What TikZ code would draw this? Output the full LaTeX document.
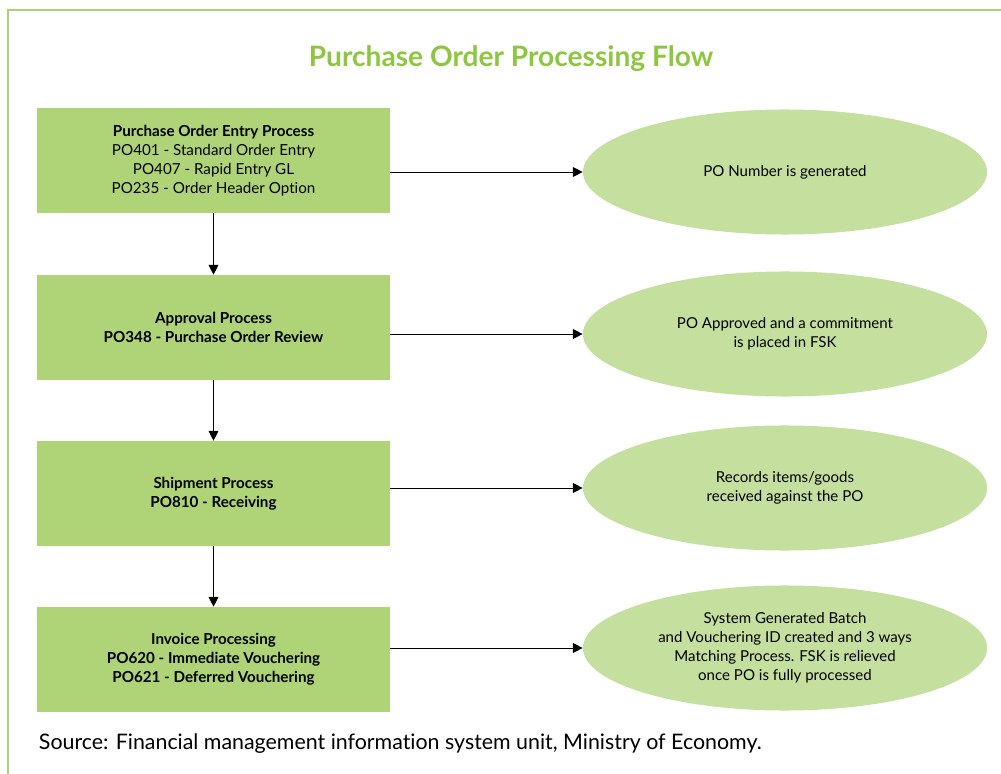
\documentclass[tikz,border=0pt]{standalone}
\usepackage{fontspec}
\setmainfont{Lato}[Ligatures=NoCommon]
\usepackage{xcolor}
\usetikzlibrary{shapes.geometric}
\usetikzlibrary{arrows.meta}
\definecolor{boxgreen}{HTML}{AED477}
\definecolor{ovalgreen}{HTML}{C5DF9F}
\definecolor{titlegreen}{HTML}{8DC63F}
\definecolor{framegreen}{HTML}{A9D17A}
\tikzset{
    process/.style={fill=boxgreen, minimum width=8.825cm, minimum height=2.625cm,
        align=center, font=\fontsize{10.8}{13.5}\selectfont, inner sep=0pt},
    outcome/.style={ellipse, fill=ovalgreen, minimum width=10.1cm, minimum height=3.125cm,
        align=center, font=\fontsize{10.7}{13.5}\selectfont, inner sep=0pt},
    flow/.style={-{Triangle[length=7pt,width=7pt]}, line width=0.7pt}
}

\begin{document}
\begin{tikzpicture}[x=0.025cm, y=-0.025cm]
		\useasboundingbox (0,0) rectangle (1001,774);
		% frame
		\draw[framegreen, line width=1.4pt] (8,774) -- (8,10) -- (1001,10);
		\node[font=\fontsize{20}{24}\selectfont\bfseries, text=titlegreen] (title) at (511,59) {Purchase Order Processing Flow};

		% processes
		\node[process] (entry) at (213.5,160.5) {\textbf{Purchase Order Entry Process}\\PO401 - Standard Order Entry\\PO407 - Rapid Entry GL\\PO235 - Order Header Option};
		\node[process] (approval) at (213.5,327.5) {\textbf{Approval Process}\\\textbf{PO348 - Purchase Order Review}};
		\node[process] (shipment) at (213.5,493.5) {\textbf{Shipment Process}\\\textbf{PO810 - Receiving}};
		\node[process] (invoice) at (213.5,659.5) {\textbf{Invoice Processing}\\\textbf{PO620 - Immediate Vouchering}\\\textbf{PO621 - Deferred Vouchering}};
		\draw[flow] (entry) -- (approval);
		\draw[flow] (approval) -- (shipment);
		\draw[flow] (shipment) -- (invoice);

		% outcomes
		\node[outcome] (number) at (785,172) {PO Number is generated};
		\node[outcome] (commit) at (785,334) {PO Approved and a commitment\\is placed in FSK};
		\node[outcome] (records) at (785,488) {Records items/goods\\received against the PO};
		\node[outcome] (batch) at (785,648) {System Generated Batch\\and Vouchering ID created and 3 ways\\Matching Process. FSK is relieved\\once PO is fully processed};
		\draw[flow] (entry.east |- number) -- (number);
		\draw[flow] (approval.east |- commit) -- (commit);
		\draw[flow] (shipment.east |- records) -- (records);
		\draw[flow] (invoice.east |- batch) -- (batch);

		% source
		\node[anchor=west, font=\fontsize{15.2}{18}\selectfont] (source) at (34,744) {Source: Financial management information system unit, Ministry of Economy.};
\end{tikzpicture}
\end{document}
